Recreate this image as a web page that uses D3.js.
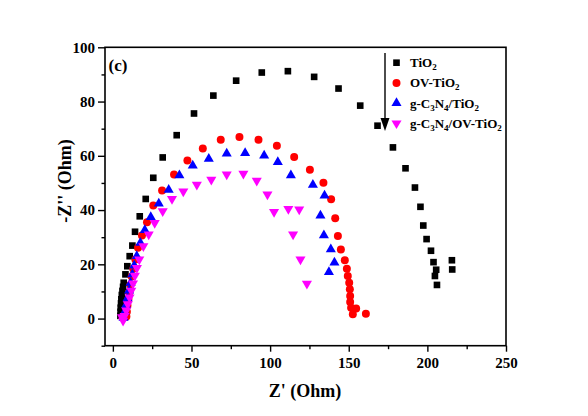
<!DOCTYPE html>
<html><head><meta charset="utf-8">
<script src="https://cdn.jsdelivr.net/npm/d3@7"></script>
<style>body{margin:0;background:#fff}svg{display:block}</style>
</head><body>
<svg id="c" width="588" height="416"></svg>
<script>
const seriesNames = ["TiO2","OV-TiO2","g-C3N4/TiO2","g-C3N4/OV-TiO2"];
const tio2 = [[4.8,1.0],[4.9,2.5],[5.0,4.0],[5.2,5.6],[5.4,7.1],[5.7,8.7],[6.1,10.2],[6.5,11.7],[6.9,13.2],[8.0,16.3],[9.2,19.3],[10.7,23.0],[12.4,26.9],[14.1,32.0],[17.1,37.7],[20.9,44.1],[25.7,51.9],[31.7,59.4],[40.6,67.6],[51.6,75.6],[63.9,82.2],[78.4,87.7],[94.7,90.7],[111.3,91.2],[128.0,89.1],[143.5,84.8],[157.3,78.5],[168.3,71.1],[178.1,63.1],[186.1,55.4],[192.1,48.3],[195.6,41.2],[197.4,34.3],[199.5,29.3],[202.3,25.0],[203.9,20.8],[205.6,18.0],[204.8,15.7],[206.1,12.4],[215.6,21.5],[215.8,18.1]];
const ovTio2 = [[8.6,0.8],[8.9,2.5],[9.3,4.8],[9.9,7.2],[10.5,9.8],[11.2,12.5],[12.0,15.5],[13.0,18.4],[14.3,21.8],[16.0,26.1],[18.5,30.6],[21.7,35.5],[25.7,41.7],[31.3,47.2],[38.9,53.1],[47.4,58.3],[57.2,62.7],[68.6,65.9],[80.5,66.9],[92.6,65.9],[104.3,63.7],[115.3,59.6],[125.3,54.9],[133.9,50.1],[138.8,44.0],[141.4,37.0],[143.1,30.4],[145.0,25.5],[147.5,21.5],[148.8,18.4],[149.4,15.7],[150.3,13.2],[150.7,10.8],[150.9,8.3],[150.9,6.1],[151.5,4.0],[154.7,3.7],[152.6,1.6],[160.9,1.8]];
const cnTio2 = [[6.8,0.3],[7.5,2.5],[8.4,5.0],[9.3,7.5],[10.3,10.3],[11.3,13.2],[12.4,16.3],[13.6,19.5],[15.2,23.0],[17.5,27.9],[20.3,32.6],[24.1,37.4],[29.2,42.4],[35.5,47.5],[42.3,52.8],[50.8,56.4],[61.0,58.9],[72.4,60.8],[84.1,61.0],[96.2,60.1],[104.9,57.7],[113.2,52.8],[127.2,49.3],[134.6,45.3],[132.0,38.0],[134.2,30.7],[138.6,25.5],[140.9,20.6],[137.4,17.1]];
const cnOvTio2 = [[5.8,0.5],[6.5,-0.8],[7.4,1.0],[8.5,3.0],[9.5,5.3],[10.6,7.8],[11.7,10.3],[12.8,13.0],[14.0,15.8],[15.3,18.7],[16.8,21.8],[19.4,26.7],[22.8,31.0],[26.6,35.3],[31.7,39.6],[37.6,44.1],[44.8,46.9],[53.4,49.4],[62.6,51.2],[72.4,53.1],[83.0,53.4],[91.5,50.8],[98.3,45.8],[102.5,39.3],[111.6,40.4],[118.5,40.2],[114.6,31.0],[119.3,21.8],[123.4,12.9]];
const xTicks = [0,50,100,150,200,250];
const yTicks = [0,20,40,60,80,100];
const xMinor = [25,75,125,175,225];
const yMinor = [-10,10,30,50,70,90];

const svg = d3.select("#c");
const FONT = "'Liberation Serif','Times New Roman',serif";
const x = d3.scaleLinear().domain([-5,250]).range([105,506]);
const y = d3.scaleLinear().domain([-10,100]).range([345.7,47.3]);

// frame
svg.append("rect").attr("x",105).attr("y",47.3).attr("width",401).attr("height",298.4)
  .attr("fill","none").attr("stroke","#000").attr("stroke-width",1.6);

// axes
const gx = svg.append("g").attr("transform","translate(0,345.7)")
  .call(d3.axisBottom(x).tickValues(xTicks).tickSize(6).tickPadding(6).tickFormat(d3.format("d")));
const gxm = svg.append("g").attr("transform","translate(0,345.7)")
  .call(d3.axisBottom(x).tickValues(xMinor).tickSize(3.5).tickFormat(""));
const gy = svg.append("g").attr("transform","translate(105,0)")
  .call(d3.axisLeft(y).tickValues(yTicks).tickSize(7).tickPadding(3).tickFormat(d3.format("d")));
const gym = svg.append("g").attr("transform","translate(105,0)")
  .call(d3.axisLeft(y).tickValues(yMinor).tickSize(3.5).tickFormat(""));
[gx,gxm,gy,gym].forEach(g=>{
  g.attr("font-family",FONT);
  g.select(".domain").remove();
  g.selectAll("line").attr("stroke","#000").attr("stroke-width",1.4);
  g.selectAll("text").attr("font-family",FONT).attr("font-weight","bold").attr("font-size",15).attr("fill","#000");
});

// axis titles
svg.append("text").attr("x",305).attr("y",397).attr("text-anchor","middle")
  .attr("font-family",FONT).attr("font-weight","bold").attr("font-size",18).text("Z' (Ohm)");
svg.append("text").attr("transform","translate(71,181) rotate(-90)").attr("text-anchor","middle")
  .attr("font-family",FONT).attr("font-weight","bold").attr("font-size",18).text("-Z'' (Ohm)");
svg.append("text").attr("x",108.5).attr("y",71)
  .attr("font-family",FONT).attr("font-weight","bold").attr("font-size",17).text("(c)");

// markers
const sq = d3.symbol().type(d3.symbolSquare).size(44);
const ci = d3.symbol().type(d3.symbolCircle).size(50);
const tu = d3.symbol().type(d3.symbolTriangle).size(44);
function drawSeries(data, sym, color, rot){
  svg.append("g").selectAll("path").data(data).join("path")
    .attr("d", sym)
    .attr("transform", d=>`translate(${x(d[0])},${y(d[1])})${rot?" rotate(180)":""}`)
    .attr("fill", color);
}
drawSeries(tio2, sq, "#000", false);
drawSeries(ovTio2, ci, "#ff0000", false);
drawSeries(cnTio2, tu, "#0000ff", false);
drawSeries(cnOvTio2, tu, "#ff00ff", true);

// legend
const legend = [
  {sym:sq,color:"#000",rot:false,parts:[["TiO",0],["2",1]]},
  {sym:ci,color:"#ff0000",rot:false,parts:[["OV-TiO",0],["2",1]]},
  {sym:tu,color:"#0000ff",rot:false,parts:[["g-C",0],["3",1],["N",0],["4",1],["/TiO",0],["2",1]]},
  {sym:tu,color:"#ff00ff",rot:true,parts:[["g-C",0],["3",1],["N",0],["4",1],["/OV-TiO",0],["2",1]]}
];
legend.forEach((L,i)=>{
  const ly = 62.7 + i*20.2;
  svg.append("path").attr("d",L.sym).attr("fill",L.color)
    .attr("transform",`translate(396.5,${ly})${L.rot?" rotate(180)":""}`);
  const t = svg.append("text").attr("x",410).attr("y",ly+4.5)
    .attr("font-family",FONT).attr("font-size",13).attr("font-weight","bold");
  L.parts.forEach((p,j)=>{
    const s = t.append("tspan").text(p[0]);
    if(p[1]){ s.attr("font-size",9).attr("dy",3); }
    else if(j>0){ s.attr("dy",-3); }
  });
});
// arrow
svg.append("line").attr("x1",385).attr("y1",53).attr("x2",385).attr("y2",121)
  .attr("stroke","#000").attr("stroke-width",1.4);
svg.append("path").attr("d","M380.5,118 L389.5,118 L385,131 Z").attr("fill","#000");
</script>
</body></html>
